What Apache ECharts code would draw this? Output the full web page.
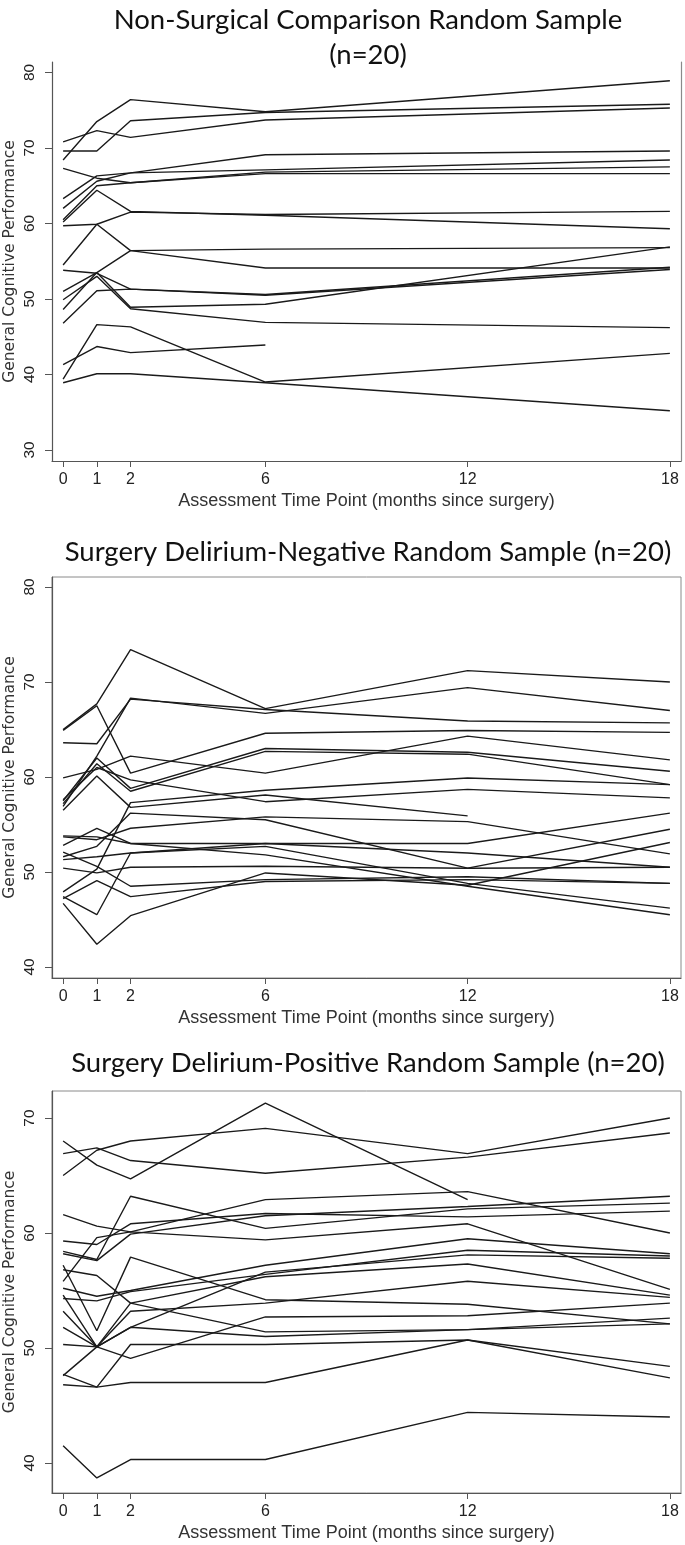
<!DOCTYPE html>
<html><head><meta charset="utf-8">
<script src="https://cdn.jsdelivr.net/npm/echarts@6/dist/echarts.min.js"></script>
<style>html,body{margin:0;padding:0;background:#fff}#c{width:685px;height:1545px}</style>
</head><body><div id="c"></div>
<script>
// ---- data ----
const months = [0, 1, 2, 6, 12, 18];
const xTickLabels = [0, 1, 2, 6, 12, 18];
const yTicksNonSurgical = [30, 40, 50, 60, 70, 80];
const yTicksDelNeg = [40, 50, 60, 70, 80];
const yTicksDelPos = [40, 50, 60, 70];
const panelTitles = [
  'Non-Surgical Comparison Random Sample\n(n=20)',
  'Surgery Delirium-Negative Random Sample (n=20)',
  'Surgery Delirium-Positive Random Sample (n=20)'
];
const xAxisTitle = 'Assessment Time Point (months since surgery)';
const yAxisTitle = 'General Cognitive Performance';

// one row per participant, values at months 0,1,2,6,12,18 (null = not assessed)
const nonSurgical = [
  [68.4, 73.5, 76.4, 74.8, null, 78.9],
  [69.6, 69.6, 73.6, 74.7, null, 75.8],
  [70.8, 72.3, 71.4, 73.7, null, 75.3],
  [67.3, 66.0, 65.4, 66.8, null, 67.5],
  [63.3, 66.3, 66.7, 69.1, null, 69.6],
  [62.0, 65.6, 66.7, 67.1, null, 68.4],
  [60.5, 65.0, 65.4, 66.6, null, 66.6],
  [60.2, 64.4, 61.6, 61.1, null, 59.3],
  [59.7, 59.9, 61.5, 61.2, null, 61.6],
  [54.5, 59.9, 56.4, 54.1, null, 54.1],
  [53.8, 53.4, 51.3, 50.5, null, 53.9],
  [46.8, 51.1, 51.3, 50.6, null, 54.2],
  [51.0, 53.5, 48.9, 49.3, null, 56.9],
  [49.9, 53.0, 48.7, 46.9, null, 46.2],
  [48.6, 53.5, 56.4, 56.6, null, 56.8],
  [41.3, 43.7, 42.9, 43.9, null, null],
  [39.4, 46.6, 46.3, 39.0, null, 42.8],
  [38.9, 40.1, 40.1, 38.9, null, 35.2]
];
const deliriumNegative = [
  [65.0, 67.7, 73.4, 67.2, 71.2, 70.0],
  [56.9, 62.2, 68.3, 66.7, 69.4, 67.0],
  [63.6, 63.5, 68.2, 67.1, 65.9, 65.7],
  [64.9, 67.5, 60.4, 64.6, 64.9, 64.7],
  [59.9, 60.8, 62.2, 60.4, 64.3, 61.8],
  [57.5, 62.0, 58.8, 63.0, 62.6, 60.6],
  [57.2, 61.4, 58.5, 62.7, 62.4, 59.2],
  [47.9, 50.3, 57.3, 58.6, 59.9, 59.2],
  [57.6, 61.0, 59.7, 57.4, 58.7, 57.8],
  [56.5, 60.1, 56.8, 58.1, 55.9, null],
  [53.8, 53.7, 53.0, 51.8, 48.5, 45.5],
  [53.7, 53.4, 54.6, 55.8, 55.3, 51.9],
  [52.8, 54.6, 53.0, 53.0, 53.0, 56.2],
  [52.1, 50.6, 48.5, 49.2, 49.5, 48.8],
  [51.6, 52.7, 56.2, 55.5, 50.4, 54.5],
  [51.3, 51.6, 52.0, 52.7, 48.8, 46.2],
  [50.4, 49.9, 50.5, 50.6, 50.4, 50.5],
  [46.7, 42.4, 45.4, 49.9, 48.6, 53.1],
  [47.4, 45.5, 52.0, 53.0, 52.0, 50.5],
  [47.2, 49.1, 47.4, 49.0, 49.2, 48.8]
];
const deliriumPositive = [
  [68.0, 65.9, 64.7, 71.3, 62.9, null],
  [65.0, 67.2, 68.0, 69.1, 66.9, 70.0],
  [66.9, 67.4, 66.3, 65.2, 66.6, 68.7],
  [61.6, 60.6, 60.1, 62.9, 63.6, 60.0],
  [58.4, 57.7, 63.2, 60.4, 62.1, 62.6],
  [59.3, 59.0, 60.8, 61.7, 61.4, 61.9],
  [55.8, 59.6, 60.1, 59.4, 60.8, 55.1],
  [58.2, 57.6, 59.9, 61.5, 62.3, 63.2],
  [57.2, 51.5, 57.9, 54.2, 53.8, 52.1],
  [56.8, 56.3, 53.9, 51.4, 51.6, 52.6],
  [55.2, 54.5, 55.0, 57.2, 59.5, 58.2],
  [54.3, 54.1, 54.9, 56.4, 58.5, 58.0],
  [54.6, 50.1, 53.9, 56.2, 57.3, 54.6],
  [53.2, 50.1, 53.2, 53.9, 55.8, 54.4],
  [51.8, 50.1, 51.8, 56.6, 58.1, 57.8],
  [50.3, 50.1, 49.1, 52.7, 52.8, 53.9],
  [47.6, 50.1, 51.8, 51.0, 51.6, 52.1],
  [46.8, 46.6, 47.0, 47.0, 50.7, 48.4],
  [47.7, 46.6, 50.3, 50.3, 50.7, 47.4],
  [41.5, 38.7, 40.3, 40.3, 44.4, 44.0]
];

// ---- layout / styles ----
const panels = [
  { rows: nonSurgical, yTicks: yTicksNonSurgical, yMin: 28.54, yMax: 81.39,
    grid: { left: 52, top: 62, width: 629, height: 399 }, box: false, titleTop: -2 },
  { rows: deliriumNegative, yTicks: yTicksDelNeg, yMin: 38.84, yMax: 81.05,
    grid: { left: 52, top: 577, width: 629, height: 401 }, box: true, titleTop: 530 },
  { rows: deliriumPositive, yTicks: yTicksDelPos, yMin: 37.39, yMax: 72.35,
    grid: { left: 52, top: 1091, width: 629, height: 402 }, box: true, titleTop: 1041 }
];

const axisColor = '#555';
const lineColor = '#1a1a1a';

const grid = [], xAxis = [], yAxis = [], series = [], title = [];

panels.forEach((p, i) => {
  grid.push(Object.assign({
    show: p.box, borderColor: '#8a8a8a', borderWidth: 1, backgroundColor: 'transparent',
    containLabel: false, outerBoundsMode: 'none'
  }, p.grid));
  title.push({
    text: panelTitles[i], left: 363, top: p.titleTop, textAlign: 'center',
    textStyle: { fontFamily: 'Lato', fontWeight: 'normal', fontSize: 27.5, color: '#111', lineHeight: 35 }
  });
  xAxis.push({
    type: 'value', gridIndex: i, min: -0.33, max: 18.33,
    axisLine: { show: true, onZero: false, lineStyle: { color: axisColor, width: 1.2 } },
    axisTick: { show: true, customValues: xTickLabels, length: 6, lineStyle: { color: axisColor } },
    axisLabel: { customValues: xTickLabels, fontFamily: 'Liberation Sans', fontSize: 16, color: '#222', margin: 11 },
    splitLine: { show: false },
    name: xAxisTitle, nameLocation: 'middle', nameGap: 31, nameMoveOverlap: false,
    nameTextStyle: { fontFamily: 'Liberation Sans', fontSize: 18, color: '#333' }
  });
  yAxis.push({
    type: 'value', gridIndex: i, min: p.yMin, max: p.yMax,
    axisLine: { show: true, onZero: false, lineStyle: { color: axisColor, width: 1.2 } },
    axisTick: { show: true, customValues: p.yTicks, length: 7, lineStyle: { color: axisColor } },
    axisLabel: { customValues: p.yTicks, rotate: 90, fontFamily: 'Liberation Sans', fontSize: 15.5, color: '#222', margin: 14 },
    splitLine: { show: false },
    name: yAxisTitle, nameLocation: 'middle', nameGap: 34, nameMoveOverlap: false,
    nameTextStyle: { fontFamily: 'DejaVu Sans', fontSize: 15.5, color: '#333' }
  });
  if (!p.box) {
    yAxis.push({
      type: 'value', gridIndex: i, position: 'right', min: p.yMin, max: p.yMax,
      axisLine: { show: true, onZero: false, lineStyle: { color: '#8a8a8a', width: 1.2 } },
      axisTick: { show: false }, axisLabel: { show: false }, splitLine: { show: false }
    });
  }
  const yIdx = yAxis.length - (p.box ? 1 : 2);
  p.rows.forEach((row) => {
    const data = [];
    row.forEach((v, k) => { if (v !== null) data.push([months[k], v]); });
    series.push({
      type: 'line', xAxisIndex: i, yAxisIndex: yIdx, data: data,
      showSymbol: false, symbol: 'none', silent: true,
      lineStyle: { color: lineColor, width: 1.4 }
    });
  });
});

const chart = echarts.init(document.getElementById('c'), null, { renderer: 'canvas' });
chart.setOption({ animation: false, backgroundColor: '#fff', title, grid, xAxis, yAxis, series });
</script>
</body></html>
